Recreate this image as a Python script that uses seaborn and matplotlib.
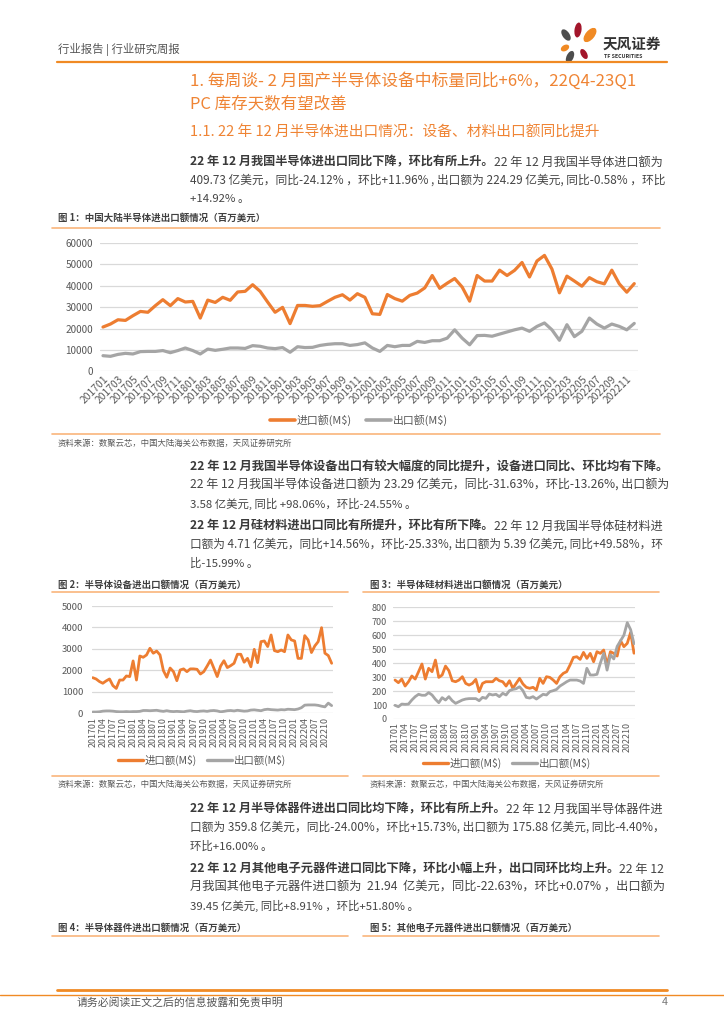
import matplotlib
matplotlib.use("Agg")
import matplotlib.pyplot as plt
import pandas as pd
import seaborn as sns
from matplotlib.lines import Line2D
from matplotlib.patches import Ellipse

W, H = 724, 1024
ORANGE = "#ED7D31"
GREY = "#A5A5A5"
TITLE_ORANGE = "#EF8434"
RULE = "#F9B57C"
TICK = "#595959"
TEXT = "#3A3A3A"

MONTHS = [f"{y}{m:02d}" for y in range(2017, 2023) for m in range(1, 13)]
IMP_LABEL = r"进口额(M\$)"
EXP_LABEL = r"出口额(M\$)"

# 图1 中国大陆半导体进出口额 (百万美元)
total_import = [
    20700, 22100, 24100, 23800, 26000, 28000, 27600, 30700, 33500, 30700, 34000, 32400,
    32700, 24900, 33300, 32200, 34600, 33200, 37100, 37400, 40500, 37400, 32400, 27600,
    29900, 22300, 30800, 30800, 30400, 30700, 32700, 34600, 35800, 33300, 36300, 34600,
    26900, 26600, 35900, 34000, 32800, 35500, 36600, 39000, 44800, 38800, 41200, 43400,
    39400, 32800, 44800, 42200, 42200, 47300, 44800, 47200, 50900, 44100, 51600, 54200,
    47800, 36700, 44500, 42200, 39800, 43800, 41900, 40900, 47300, 40900, 37000, 41000,
]
total_export = [
    7300, 7000, 7900, 8400, 8100, 9200, 9300, 9300, 9700, 8700, 9700, 10900,
    9700, 8100, 10400, 9800, 10300, 10900, 10900, 10700, 12000, 11700, 10900, 10600,
    11100, 8900, 11500, 11100, 11200, 12100, 12600, 12900, 12900, 12100, 12500, 13300,
    10900, 9300, 12100, 11500, 12100, 12100, 14000, 13500, 14300, 14300, 15500, 19400,
    15500, 12400, 16700, 16800, 16400, 17400, 18400, 19400, 20200, 18700, 21000, 22600,
    19400, 14500, 21800, 16200, 18700, 24900, 22100, 20200, 22100, 21000, 19400, 22400,
]

# 图2 半导体设备进出口额
equip_import = [
    1660, 1600, 1480, 1400, 1510, 1600, 1290, 1160, 1550, 1550, 1740, 1710,
    2440, 1550, 2670, 2610, 2720, 3030, 2800, 2900, 2720, 1990, 1680, 2110,
    1940, 1520, 2020, 2070, 1940, 2070, 2070, 2050, 1830, 1940, 2200, 2480,
    2100, 1710, 2200, 2450, 2130, 2220, 2330, 2750, 2750, 2380, 2560, 2170,
    2980, 2360, 3340, 3370, 3110, 3650, 2920, 2870, 2950, 2870, 3650, 3420,
    3370, 2560, 2560, 3620, 3420, 2830, 3140, 3340, 3990, 2800, 2690, 2330,
]
equip_export = [
    60, 60, 70, 100, 110, 110, 100, 80, 70, 70, 80, 70,
    80, 80, 90, 130, 130, 120, 130, 140, 110, 90, 120, 90,
    80, 90, 80, 70, 100, 120, 90, 80, 100, 110, 90, 120,
    130, 110, 70, 90, 120, 130, 110, 140, 120, 100, 110, 150,
    160, 140, 120, 170, 190, 170, 160, 150, 170, 160, 190, 180,
    170, 200, 260, 380, 390, 390, 390, 370, 330, 300, 474, 358,
]

# 图3 半导体硅材料进出口额
si_import = [
    279, 260, 286, 236, 267, 308, 286, 339, 394, 286, 363, 339,
    422, 298, 315, 379, 346, 274, 267, 279, 303, 255, 243, 255,
    284, 196, 255, 267, 267, 267, 291, 274, 267, 236, 274, 220,
    255, 291, 251, 227, 220, 227, 208, 291, 255, 303, 298, 279,
    255, 303, 327, 339, 387, 441, 446, 427, 477, 434, 470, 410,
    482, 470, 494, 387, 482, 470, 451, 561, 518, 542, 620, 471,
]
si_export = [
    98, 88, 107, 105, 107, 136, 160, 177, 170, 170, 189, 172,
    141, 117, 153, 136, 160, 131, 112, 124, 136, 143, 146, 146,
    146, 131, 155, 148, 179, 172, 177, 160, 184, 172, 203, 212,
    217, 231, 203, 155, 150, 160, 143, 160, 177, 172, 196, 203,
    212, 236, 251, 267, 279, 279, 279, 272, 255, 363, 315, 315,
    320, 400, 470, 350, 460, 430, 520, 560, 600, 690, 640, 539,
]


def fx(x):
    return x / W


def fy(y):
    return 1 - y / H


def axes_px(fig, left, top, right, bottom):
    return fig.add_axes([fx(left), fy(bottom), (right - left) / W, (bottom - top) / H])


def hrule(fig, x0, x1, y, color=RULE, lw=1.2):
    fig.add_artist(Line2D([fx(x0), fx(x1)], [fy(y), fy(y)], color=color, lw=lw))


def text_line(fig, x, y, parts, size, width=None):
    renderer = fig.canvas.get_renderer()
    items = [
        fig.text(0, fy(y), t, fontsize=size, fontweight=w, color=c, va="center")
        for t, w, c in parts
    ]
    if width:
        total = sum(it.get_window_extent(renderer).width for it in items)
        for it in items:
            it.set_fontsize(size * width / total)
    cur = x
    for it in items:
        it.set_x(fx(cur))
        cur += it.get_window_extent(renderer).width


def paragraph(fig, y0, lines, size=8.2, width=474, x=190, step=18.5):
    for i, parts in enumerate(lines):
        full = i < len(lines) - 1
        text_line(fig, x, y0 + i * step, parts, size, width if full else None)


def draw_chart(ax, imp, exp, lw, ymax, ystep, xstep, rot, xlim, ypad, xpad, fs_y, fs_x):
    n = len(imp)
    df = pd.DataFrame({
        "idx": list(range(n)) * 2,
        "value": imp + exp,
        "series": [IMP_LABEL] * n + [EXP_LABEL] * n,
    })
    sns.lineplot(data=df, x="idx", y="value", hue="series",
                 hue_order=[IMP_LABEL, EXP_LABEL],
                 palette={IMP_LABEL: ORANGE, EXP_LABEL: GREY},
                 linewidth=lw, legend=False, ax=ax)
    ax.set_xlim(*xlim)
    ax.set_ylim(0, ymax)
    ax.set_yticks(range(0, ymax + 1, ystep))
    ax.set_yticklabels([str(v) for v in range(0, ymax + 1, ystep)], fontsize=fs_y, color=TICK)
    ticks = list(range(0, n, xstep))
    ax.set_xticks(ticks)
    if rot == 90:
        ax.set_xticklabels([MONTHS[i] for i in ticks], rotation=90, fontsize=fs_x, color=TICK)
    else:
        ax.set_xticklabels([MONTHS[i] for i in ticks], rotation=rot, ha="right",
                           rotation_mode="anchor", fontsize=fs_x, color=TICK)
    ax.tick_params(axis="y", length=0, pad=ypad)
    ax.tick_params(axis="x", length=0, pad=xpad)
    ax.yaxis.grid(True, color="#D9D9D9", lw=0.9)
    ax.xaxis.grid(False)
    ax.set_axisbelow(True)
    ax.set_xlabel("")
    ax.set_ylabel("")
    for s in ax.spines.values():
        s.set_visible(False)
    ax.patch.set_alpha(0)


def chart_legend(fig, cx, cy, lw, fs, handlelength, colspace):
    handles = [Line2D([], [], color=ORANGE, lw=lw), Line2D([], [], color=GREY, lw=lw)]
    fig.legend(handles, [IMP_LABEL, EXP_LABEL], loc="center",
               bbox_to_anchor=(fx(cx), fy(cy)), ncol=2, frameon=False,
               fontsize=fs, labelcolor=TICK, handlelength=handlelength,
               handletextpad=0.15, columnspacing=colspace, borderpad=0)


def draw_logo(fig):
    ax = axes_px(fig, 556, 20, 602, 66)
    ax.set_xlim(0, 46)
    ax.set_ylim(46, 0)
    ax.axis("off")
    petals = [
        (22, 10, 7, 15, 8, "#A3162B"),
        (10, 15, 7, 13, -35, "#4D4D4D"),
        (34, 15, 9, 17, 40, "#F08A24"),
        (9, 28, 6, 9, 60, "#F08A24"),
        (14, 37, 7, 13, 25, "#4D4D4D"),
        (28, 34, 6, 11, -30, "#A3162B"),
    ]
    for x, y, w, h, ang, c in petals:
        ax.add_patch(Ellipse((x, y), w, h, angle=ang, color=c, lw=0))


def main():
    sns.set_theme(style="white")
    plt.rcParams["font.family"] = ["Noto Sans CJK SC", "DejaVu Sans"]
    plt.rcParams["axes.unicode_minus"] = False

    fig = plt.figure(figsize=(W / 100, H / 100), dpi=100)
    fig.patch.set_facecolor("white")

    # header
    fig.text(fx(58), fy(50), "行业报告 | 行业研究周报", fontsize=8.2, color="#555555", va="center")
    draw_logo(fig)
    fig.text(fx(603), fy(44), "天风证券", fontsize=10.5, fontweight="bold", color="#333333", va="center")
    fig.text(fx(604), fy(57), "TF SECURITIES", fontsize=3.8, fontweight="bold", color="#333333", va="center")
    hrule(fig, 57, 667, 62, color="#F08A24", lw=1.6)

    # section titles
    text_line(fig, 190, 81, [("1. 每周谈- 2 月国产半导体设备中标量同比+6%，22Q4-23Q1", "medium", TITLE_ORANGE)], 12, 446)
    text_line(fig, 190, 104, [("PC 库存天数有望改善", "medium", TITLE_ORANGE)], 11.9)
    text_line(fig, 190, 133, [("1.1. 22 年 12 月半导体进出口情况：设备、材料出口额同比提升", "medium", TITLE_ORANGE)], 10.5, 410)

    B, N = ("bold", TEXT), ("normal", "#444444")
    paragraph(fig, 162, [
        [("22 年 12 月我国半导体进出口同比下降，环比有所上升。", *B), ("22 年 12 月我国半导体进口额为", *N)],
        [("409.73 亿美元，同比-24.12% ，环比+11.96% , 出口额为 224.29 亿美元, 同比-0.58% ，环比", *N)],
        [("+14.92% 。", *N)],
    ])

    # figure 1
    fig.text(fx(58), fy(218), "图 1：中国大陆半导体进出口额情况（百万美元）", fontsize=6.8,
             fontweight="bold", color="#404040", va="center")
    hrule(fig, 52, 660, 228)
    ax1 = axes_px(fig, 100, 243, 638, 371.3)
    draw_chart(ax1, total_import, total_export, lw=2.3, ymax=60000, ystep=10000, xstep=2,
               rot=45, xlim=(-0.4, 71.5), ypad=5, xpad=2, fs_y=7.2, fs_x=7.4)
    chart_legend(fig, 359, 420, 2.6, 7.8, 2.3, 1.3)
    hrule(fig, 52, 660, 434)
    fig.text(fx(58), fy(443), "资料来源：数聚云芯，中国大陆海关公布数据，天风证券研究所", fontsize=6,
             color=TICK, va="center")

    paragraph(fig, 467, [
        [("22 年 12 月我国半导体设备出口有较大幅度的同比提升，设备进口同比、环比均有下降。", *B)],
        [("22 年 12 月我国半导体设备进口额为 23.29 亿美元，同比-31.63%，环比-13.26%, 出口额为", *N)],
        [("3.58 亿美元, 同比 +98.06%，环比-24.55% 。", *N)],
    ], width=480)
    paragraph(fig, 526, [
        [("22 年 12 月硅材料进出口同比有所提升，环比有所下降。", *B), ("22 年 12 月我国半导体硅材料进", *N)],
        [("口额为 4.71 亿美元，同比+14.56%，环比-25.33%, 出口额为 5.39 亿美元, 同比+49.58%，环", *N)],
        [("比-15.99% 。", *N)],
    ])

    # figures 2 and 3
    fig.text(fx(58), fy(585), "图 2：半导体设备进出口额情况（百万美元）", fontsize=6.8,
             fontweight="bold", color="#404040", va="center")
    fig.text(fx(370), fy(585), "图 3：半导体硅材料进出口额情况（百万美元）", fontsize=6.8,
             fontweight="bold", color="#404040", va="center")
    hrule(fig, 52, 348, 592)
    hrule(fig, 363, 659, 592)

    ax2 = axes_px(fig, 91.7, 606, 333, 713.3)
    draw_chart(ax2, equip_import, equip_export, lw=2.0, ymax=5000, ystep=1000, xstep=3,
               rot=90, xlim=(-0.3, 71.4), ypad=6, xpad=3, fs_y=6.9, fs_x=6.4)
    chart_legend(fig, 202, 760, 2.4, 7.5, 2.4, 1.0)

    ax3 = axes_px(fig, 393, 607.3, 635, 719)
    draw_chart(ax3, si_import, si_export, lw=2.0, ymax=800, ystep=100, xstep=3,
               rot=90, xlim=(-0.6, 71.3), ypad=4.3, xpad=2, fs_y=6.5, fs_x=6.4)
    chart_legend(fig, 507, 763, 2.4, 7.5, 2.4, 1.0)

    hrule(fig, 52, 348, 776)
    hrule(fig, 363, 659, 776)
    fig.text(fx(58), fy(784), "资料来源：数聚云芯，中国大陆海关公布数据，天风证券研究所", fontsize=6,
             color=TICK, va="center")
    fig.text(fx(370), fy(784), "资料来源：数聚云芯，中国大陆海关公布数据，天风证券研究所", fontsize=6,
             color=TICK, va="center")

    paragraph(fig, 809, [
        [("22 年 12 月半导体器件进出口同比均下降，环比有所上升。", *B), ("22 年 12 月我国半导体器件进", *N)],
        [("口额为 359.8 亿美元，同比-24.00%，环比+15.73%, 出口额为 175.88 亿美元, 同比-4.40%，", *N)],
        [("环比+16.00% 。", *N)],
    ])
    paragraph(fig, 869, [
        [("22 年 12 月其他电子元器件进口同比下降，环比小幅上升，出口同环比均上升。", *B), ("22 年 12", *N)],
        [("月我国其他电子元器件进口额为  21.94  亿美元，同比-22.63%，环比+0.07% ，出口额为", *N)],
        [("39.45 亿美元, 同比+8.91% ，环比+51.80% 。", *N)],
    ])

    # figures 4 and 5 captions
    fig.text(fx(58), fy(928), "图 4：半导体器件进出口额情况（百万美元）", fontsize=6.8,
             fontweight="bold", color="#404040", va="center")
    fig.text(fx(370), fy(928), "图 5：其他电子元器件进出口额情况（百万美元）", fontsize=6.8,
             fontweight="bold", color="#404040", va="center")
    hrule(fig, 52, 348, 936)
    hrule(fig, 363, 659, 936)

    # footer
    hrule(fig, 57, 667, 990, color="#F08A24", lw=2.0)
    hrule(fig, 0, 724, 995, color="#F08A24", lw=1.0)
    fig.text(fx(77), fy(1002), "请务必阅读正文之后的信息披露和免责申明", fontsize=7.8,
             color="#555555", va="center")
    fig.text(fx(662), fy(1002), "4", fontsize=7.8, color="#777777", va="center")

    fig.savefig("out.png", dpi=100)


if __name__ == "__main__":
    main()
